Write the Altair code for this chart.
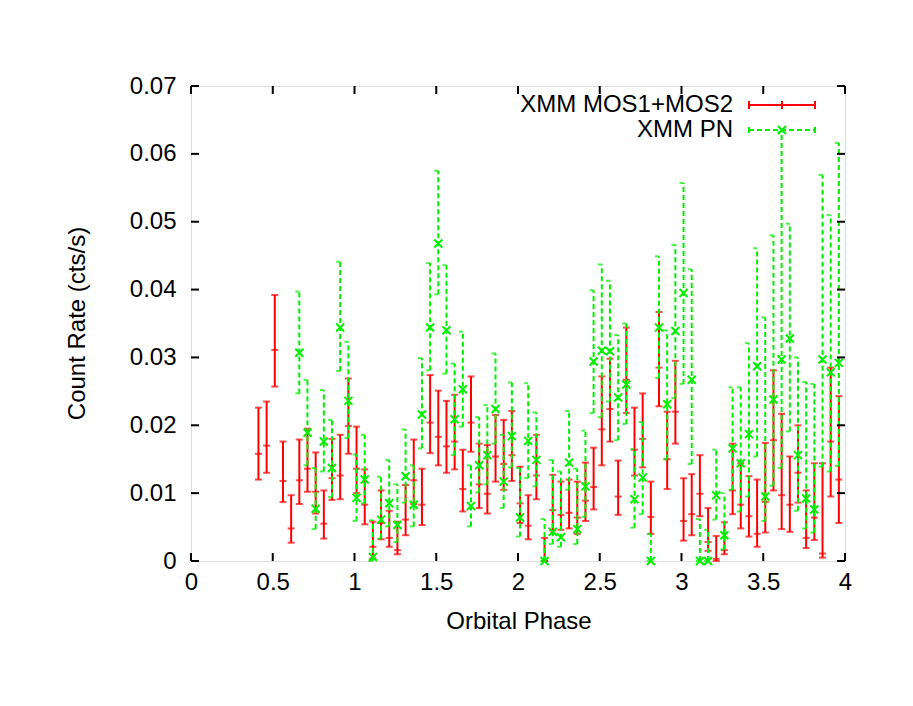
import altair as alt
import pandas as pd

# ---------------- data ----------------
mos_phase = [0.4125, 0.4625, 0.5125, 0.5625, 0.6125, 0.6625, 0.7125, 0.7625, 0.8125, 0.8625,
             0.9125, 0.9625, 1.0125, 1.0625, 1.1125, 1.1625, 1.2125, 1.2625, 1.3125, 1.3625,
             1.4125, 1.4625, 1.5125, 1.5625, 1.6125, 1.6625, 1.7125, 1.7625, 1.8125, 1.8625,
             1.9125, 1.9625, 2.0125, 2.0625, 2.1125, 2.1625, 2.2125, 2.2625, 2.3125, 2.3625,
             2.4125, 2.4625, 2.5125, 2.5625, 2.6125, 2.6625, 2.7125, 2.7625, 2.8125, 2.8625,
             2.9125, 2.9625, 3.0125, 3.0625, 3.1125, 3.1625, 3.2125, 3.2625, 3.3125, 3.3625,
             3.4125, 3.4625, 3.5125, 3.5625, 3.6125, 3.6625, 3.7125, 3.7625, 3.8125, 3.8625,
             3.9125, 3.9625]
mos_rate = [0.0158, 0.0170, 0.0311, 0.0118, 0.0048, 0.0119, 0.0136, 0.0102, 0.0055, 0.0122,
            0.0126, 0.0199, 0.0136, 0.0083, 0.0021, 0.0056, 0.0034, 0.0016, 0.0061, 0.0119,
            0.0083, 0.0204, 0.0183, 0.0169, 0.0176, 0.0106, 0.0204, 0.0113, 0.0099, 0.0154,
            0.0143, 0.0156, 0.0085, 0.0052, 0.0126, 0.0000, 0.0075, 0.0068, 0.0071, 0.0064,
            0.0089, 0.0109, 0.0194, 0.0224, 0.0095, 0.0267, 0.0164, 0.0180, 0.0065, 0.0285,
            0.0150, 0.0220, 0.0059, 0.0069, 0.0099, 0.0028, 0.0003, 0.0016, 0.0104, 0.0083,
            0.0066, 0.0040, 0.0087, 0.0178, 0.0097, 0.0083, 0.0130, 0.0034, 0.0064, 0.0011,
            0.0176, 0.0120]
mos_low = [0.0120, 0.0130, 0.0257, 0.0087, 0.0027, 0.0084, 0.0102, 0.0070, 0.0033, 0.0090,
           0.0091, 0.0158, 0.0100, 0.0054, 0.0004, 0.0032, 0.0021, 0.0010, 0.0038, 0.0084,
           0.0053, 0.0159, 0.0141, 0.0130, 0.0135, 0.0073, 0.0161, 0.0078, 0.0070, 0.0117,
           0.0105, 0.0118, 0.0056, 0.0032, 0.0091, 0.0000, 0.0045, 0.0046, 0.0048, 0.0040,
           0.0059, 0.0076, 0.0141, 0.0176, 0.0068, 0.0218, 0.0126, 0.0138, 0.0040, 0.0228,
           0.0106, 0.0173, 0.0030, 0.0038, 0.0066, 0.0015, 0.0000, 0.0010, 0.0069, 0.0048,
           0.0036, 0.0021, 0.0042, 0.0104, 0.0047, 0.0043, 0.0086, 0.0019, 0.0031, 0.0005,
           0.0095, 0.0056]
mos_high = [0.0226, 0.0235, 0.0392, 0.0176, 0.0097, 0.0179, 0.0195, 0.0160, 0.0104, 0.0180,
            0.0186, 0.0269, 0.0198, 0.0135, 0.0058, 0.0104, 0.0074, 0.0058, 0.0112, 0.0179,
            0.0136, 0.0274, 0.0251, 0.0236, 0.0245, 0.0164, 0.0272, 0.0173, 0.0171, 0.0215,
            0.0208, 0.0221, 0.0139, 0.0097, 0.0186, 0.0034, 0.0127, 0.0117, 0.0120, 0.0117,
            0.0145, 0.0167, 0.0272, 0.0298, 0.0148, 0.0344, 0.0226, 0.0247, 0.0117, 0.0367,
            0.0220, 0.0295, 0.0122, 0.0128, 0.0156, 0.0078, 0.0037, 0.0057, 0.0173, 0.0144,
            0.0125, 0.0120, 0.0174, 0.0281, 0.0217, 0.0154, 0.0200, 0.0104, 0.0144, 0.0144,
            0.0285, 0.0243]

pn_phase = [0.6625, 0.7125, 0.7625, 0.8125, 0.8625, 0.9125, 0.9625, 1.0125, 1.0625, 1.1125,
            1.1625, 1.2125, 1.2625, 1.3125, 1.3625, 1.4125, 1.4625, 1.5125, 1.5625, 1.6125,
            1.6625, 1.7125, 1.7625, 1.8125, 1.8625, 1.9125, 1.9625, 2.0125, 2.0625, 2.1125,
            2.1625, 2.2125, 2.2625, 2.3125, 2.3625, 2.4125, 2.4625, 2.5125, 2.5625, 2.6125,
            2.6625, 2.7125, 2.7625, 2.8125, 2.8625, 2.9125, 2.9625, 3.0125, 3.0625, 3.1125,
            3.1625, 3.2125, 3.2625, 3.3125, 3.3625, 3.4125, 3.4625, 3.5125, 3.5625, 3.6125,
            3.6625, 3.7125, 3.7625, 3.8125, 3.8625, 3.9125, 3.9625]
pn_rate = [0.0307, 0.0189, 0.0077, 0.0176, 0.0137, 0.0344, 0.0236, 0.0093, 0.0120, 0.0006,
           0.0061, 0.0085, 0.0053, 0.0125, 0.0083, 0.0216, 0.0344, 0.0468, 0.0340, 0.0209,
           0.0253, 0.0081, 0.0141, 0.0156, 0.0224, 0.0117, 0.0184, 0.0064, 0.0177, 0.0149,
           0.0000, 0.0043, 0.0035, 0.0145, 0.0047, 0.0110, 0.0294, 0.0310, 0.0309, 0.0241,
           0.0260, 0.0091, 0.0123, 0.0000, 0.0344, 0.0231, 0.0339, 0.0395, 0.0267, 0.0000,
           0.0000, 0.0097, 0.0038, 0.0166, 0.0144, 0.0187, 0.0287, 0.0095, 0.0238, 0.0297,
           0.0328, 0.0156, 0.0092, 0.0076, 0.0297, 0.0278, 0.0292]
pn_low = [0.0247, 0.0141, 0.0047, 0.0132, 0.0094, 0.0280, 0.0181, 0.0059, 0.0085, 0.0000,
          0.0033, 0.0051, 0.0028, 0.0086, 0.0051, 0.0166, 0.0281, 0.0393, 0.0276, 0.0156,
          0.0198, 0.0051, 0.0101, 0.0113, 0.0173, 0.0078, 0.0138, 0.0036, 0.0122, 0.0110,
          0.0000, 0.0025, 0.0021, 0.0105, 0.0025, 0.0065, 0.0218, 0.0212, 0.0235, 0.0178,
          0.0202, 0.0049, 0.0069, 0.0000, 0.0270, 0.0150, 0.0240, 0.0261, 0.0143, 0.0000,
          0.0000, 0.0061, 0.0017, 0.0105, 0.0073, 0.0095, 0.0154, 0.0059, 0.0111, 0.0137,
          0.0191, 0.0074, 0.0048, 0.0042, 0.0139, 0.0132, 0.0140]
pn_high = [0.0397, 0.0267, 0.0137, 0.0252, 0.0208, 0.0441, 0.0323, 0.0157, 0.0186, 0.0060,
           0.0124, 0.0149, 0.0113, 0.0194, 0.0141, 0.0299, 0.0439, 0.0575, 0.0436, 0.0291,
           0.0338, 0.0141, 0.0212, 0.0230, 0.0306, 0.0186, 0.0263, 0.0137, 0.0262, 0.0219,
           0.0062, 0.0149, 0.0132, 0.0221, 0.0136, 0.0192, 0.0399, 0.0437, 0.0413, 0.0333,
           0.0350, 0.0165, 0.0205, 0.0040, 0.0449, 0.0340, 0.0466, 0.0557, 0.0430, 0.0062,
           0.0046, 0.0164, 0.0100, 0.0256, 0.0256, 0.0321, 0.0461, 0.0359, 0.0480, 0.0632,
           0.0497, 0.0300, 0.0264, 0.0261, 0.0569, 0.0510, 0.0616]

x_ticks = [0, 0.5, 1, 1.5, 2, 2.5, 3, 3.5, 4]
y_ticks = [0, 0.01, 0.02, 0.03, 0.04, 0.05, 0.06, 0.07]

legend_labels = ["XMM MOS1+MOS2", "XMM PN"]
x_title = "Orbital Phase"
y_title = "Count Rate (cts/s)"

# ---------------- styling ----------------
W, H = 654, 475
RED = "#ff0000"
GREEN = "#00f000"
FONT = "Liberation Sans"
FS = 24
DASH = [5, 3]
XSHAPE = "M -1 -1 L 1 1 M -1 1 L 1 -1"
LW = 2

mos = pd.DataFrame({"phase": mos_phase, "rate": mos_rate, "lo": mos_low, "hi": mos_high})
pn = pd.DataFrame({"phase": pn_phase, "rate": pn_rate, "lo": pn_low, "hi": pn_high})

xs = alt.Scale(domain=[0, 4], nice=False, zero=False)
ys = alt.Scale(domain=[0, 0.07], nice=False, zero=False)
xaxis = alt.Axis(values=x_ticks, format="~g", title=None, ticks=False, tickSize=0,
                 domain=False, grid=False, labelPadding=9, labelFont=FONT,
                 labelFontSize=FS, labelColor="black", labelFlush=False)
yaxis = alt.Axis(values=y_ticks, format="~g", title=None, ticks=False, tickSize=0,
                 domain=False, grid=False, labelPadding=15, labelFont=FONT,
                 labelFontSize=FS, labelColor="black")


def X(field):
    return alt.X(field, type="quantitative", scale=xs, axis=xaxis)


def Y(field):
    return alt.Y(field, type="quantitative", scale=ys, axis=yaxis)


# red (MOS) error bars
bm = alt.Chart(mos)
red_rule = bm.mark_rule(color=RED, strokeWidth=LW).encode(x=X("phase"), y=Y("lo"), y2="hi")
red_lo = bm.mark_tick(orient="horizontal", color=RED, size=7, thickness=LW).encode(x=X("phase"), y=Y("lo"))
red_hi = bm.mark_tick(orient="horizontal", color=RED, size=7, thickness=LW).encode(x=X("phase"), y=Y("hi"))
red_mid = bm.mark_tick(orient="horizontal", color=RED, size=7, thickness=LW).encode(x=X("phase"), y=Y("rate"))

# green (PN) error bars (dashed; caps show as short left half-caps)
bp = alt.Chart(pn)
grn_rule = bp.mark_rule(color=GREEN, strokeWidth=LW, strokeDash=DASH).encode(x=X("phase"), y=Y("lo"), y2="hi")
grn_lo = bp.mark_tick(orient="horizontal", color=GREEN, size=4, thickness=LW, xOffset=-2).encode(x=X("phase"), y=Y("lo"))
grn_hi = bp.mark_tick(orient="horizontal", color=GREEN, size=4, thickness=LW, xOffset=-2).encode(x=X("phase"), y=Y("hi"))
grn_pt = bp.mark_point(shape=XSHAPE, filled=False, color=GREEN, size=64, strokeWidth=2, opacity=1).encode(
    x=X("phase"), y=Y("rate"))

# inward ticks on all four sides
xt = alt.Chart(pd.DataFrame({"v": x_ticks}))
yt = alt.Chart(pd.DataFrame({"v": y_ticks}))
tick_b = xt.mark_rule(color="black", strokeWidth=2).encode(x=X("v"), y=alt.value(H), y2=alt.value(H - 8))
tick_t = xt.mark_rule(color="black", strokeWidth=2).encode(x=X("v"), y=alt.value(0), y2=alt.value(8))
tick_l = yt.mark_rule(color="black", strokeWidth=2).encode(y=Y("v"), x=alt.value(0), x2=alt.value(8))
tick_r = yt.mark_rule(color="black", strokeWidth=2).encode(y=Y("v"), x=alt.value(W - 8), x2=alt.value(W))

# axis titles
one = pd.DataFrame({"a": [0]})
xtitle = alt.Chart(one).mark_text(text=x_title, font=FONT, fontSize=FS, color="black",
                                  align="center", baseline="middle").encode(
    x=alt.value(W / 2 + 1), y=alt.value(536))
ytitle = alt.Chart(one).mark_text(text=y_title, font=FONT, fontSize=FS, color="black",
                                  align="center", baseline="middle", angle=270).encode(
    x=alt.value(-113), y=alt.value(H / 2))

# legend
LX0, LX1, LXM = 558, 624, 591
LY1, LY2 = 19, 44
leg_t1 = alt.Chart(one).mark_text(text=legend_labels[0], font=FONT, fontSize=FS, color="black",
                                  align="right", baseline="middle").encode(x=alt.value(542), y=alt.value(LY1))
leg_t2 = alt.Chart(one).mark_text(text=legend_labels[1], font=FONT, fontSize=FS, color="black",
                                  align="right", baseline="middle").encode(x=alt.value(542), y=alt.value(LY2))
leg_r_line = alt.Chart(one).mark_rule(color=RED, strokeWidth=LW).encode(
    x=alt.value(LX0), x2=alt.value(LX1), y=alt.value(LY1))
leg_r_caps = [alt.Chart(one).mark_rule(color=RED, strokeWidth=LW).encode(
    x=alt.value(px), y=alt.value(LY1 - 4), y2=alt.value(LY1 + 4)) for px in (LX0, LXM, LX1)]
leg_g_line = alt.Chart(one).mark_rule(color=GREEN, strokeWidth=LW, strokeDash=DASH).encode(
    x=alt.value(LX0), x2=alt.value(LX1), y=alt.value(LY2))
leg_g_caps = [alt.Chart(one).mark_rule(color=GREEN, strokeWidth=LW).encode(
    x=alt.value(px), y=alt.value(LY2 - 3), y2=alt.value(LY2 + 3)) for px in (LX0, LX1)]
leg_g_pt = alt.Chart(one).mark_point(shape=XSHAPE, filled=False, color=GREEN, size=64,
                                     strokeWidth=2, opacity=1).encode(x=alt.value(LXM), y=alt.value(LY2))

chart = alt.layer(
    red_rule, red_lo, red_hi, red_mid,
    grn_rule, grn_lo, grn_hi, grn_pt,
    tick_b, tick_t, tick_l, tick_r,
    xtitle, ytitle,
    leg_t1, leg_t2, leg_r_line, *leg_r_caps, leg_g_line, *leg_g_caps, leg_g_pt,
).properties(
    width=W, height=H,
    autosize=alt.AutoSizeParams(type="none"),
    padding={"left": 183, "top": 78, "right": 60, "bottom": 150},
).configure_view(stroke="black", strokeWidth=2).configure(background="white")

chart.save("out.html", embed_options={"renderer": "svg", "actions": False})
